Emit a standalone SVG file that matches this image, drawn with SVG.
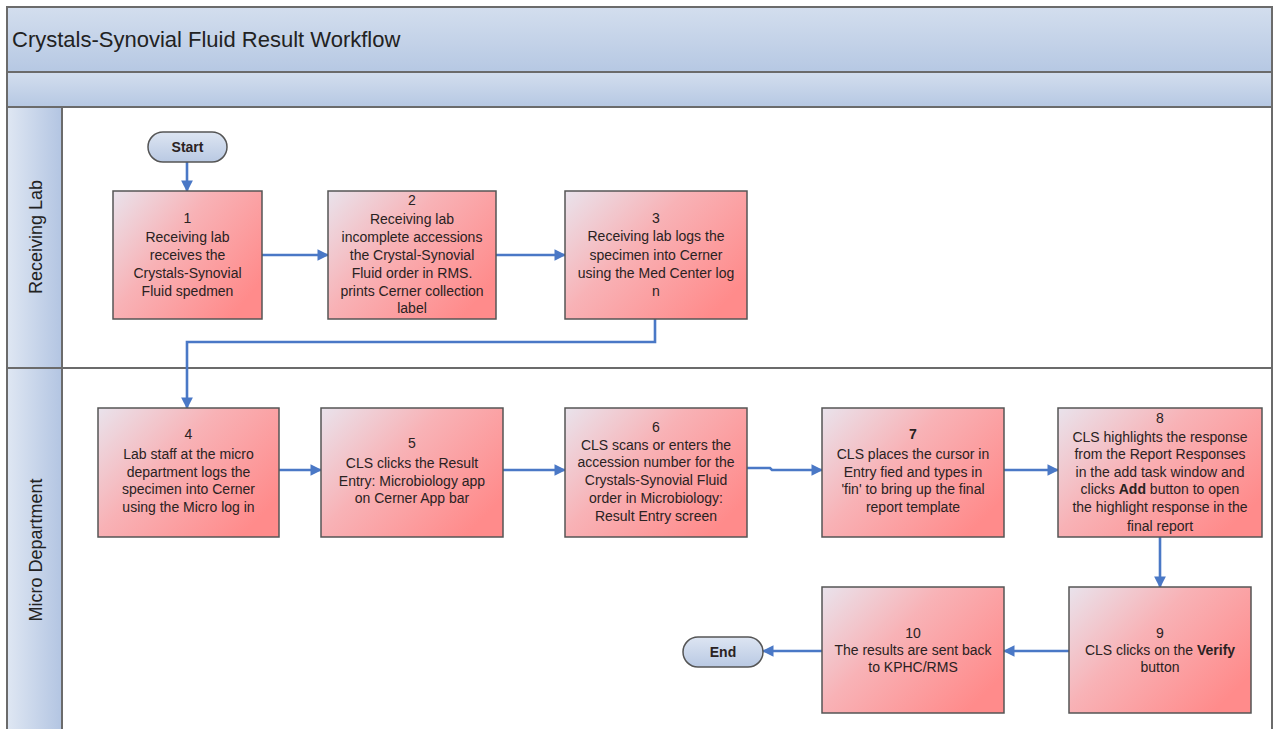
<svg xmlns="http://www.w3.org/2000/svg" width="1275" height="729" viewBox="0 0 1275 729">
<defs>
<linearGradient id="band" x1="0" y1="0" x2="0" y2="1"><stop offset="0" stop-color="#d3deee"/><stop offset="1" stop-color="#b6c8e3"/></linearGradient>
<linearGradient id="lane" x1="0" y1="0" x2="1" y2="0"><stop offset="0" stop-color="#dfe7f3"/><stop offset="1" stop-color="#b3c5e2"/></linearGradient>
<linearGradient id="box" x1="0" y1="0" x2="1" y2="0.7"><stop offset="0" stop-color="#e9e3ec"/><stop offset="0.45" stop-color="#f8b2b6"/><stop offset="1" stop-color="#ff8b8b"/></linearGradient>
<linearGradient id="term" x1="0" y1="0" x2="0" y2="1"><stop offset="0" stop-color="#dde5f2"/><stop offset="1" stop-color="#b9c9e3"/></linearGradient>
<marker id="ah" viewBox="0 0 10 10" refX="9" refY="5" markerWidth="4.5" markerHeight="4.5" orient="auto" markerUnits="strokeWidth"><path d="M0,0 L10,5 L0,10 z" fill="#4a78c6"/></marker>
</defs>
<style>
.frame{fill:none;stroke:#6b6b6b;stroke-width:2}
.bx{fill:url(#box);stroke:#555;stroke-width:1.5}
.tm{fill:url(#term);stroke:#555;stroke-width:1.5}
.t{font-family:"Liberation Sans",Arial,sans-serif;font-size:14px;fill:#2a2222;text-anchor:middle}
.b{font-weight:bold}
.cn{fill:none;stroke:#4a78c6;stroke-width:2.6;marker-end:url(#ah)}
.lbl{font-family:"Liberation Sans",Arial,sans-serif;font-size:18px;fill:#222;text-anchor:middle}
</style>
<rect x="0" y="0" width="1275" height="729" fill="#ffffff"/>
<g id="pool">
<rect x="7" y="7" width="1265" height="65" fill="url(#band)"/>
<rect x="7" y="72" width="1265" height="35" fill="url(#band)"/>
<rect x="7" y="107" width="55" height="622" fill="url(#lane)"/>
<line x1="7" y1="72" x2="1272" y2="72" class="frame"/>
<line x1="7" y1="107" x2="1272" y2="107" class="frame"/>
<line x1="7" y1="368" x2="1272" y2="368" class="frame"/>
<line x1="62" y1="107" x2="62" y2="729" class="frame"/>
<path d="M7,729 L7,7 L1272,7 L1272,729" class="frame"/>
<text x="12" y="47" font-family="Liberation Sans,Arial,sans-serif" font-size="22" fill="#222">Crystals-Synovial Fluid Result Workflow</text>
<text class="lbl" transform="translate(42,237) rotate(-90)">Receiving Lab</text>
<text class="lbl" transform="translate(42,550) rotate(-90)">Micro Department</text>
</g>
<g id="connectors">
<line x1="187" y1="162" x2="187" y2="191" class="cn"/>
<line x1="262" y1="255" x2="328" y2="255" class="cn"/>
<line x1="496" y1="255" x2="565" y2="255" class="cn"/>
<polyline points="655,319 655,342 187,342 187,408" class="cn"/>
<line x1="279" y1="470" x2="321" y2="470" class="cn"/>
<line x1="503" y1="470" x2="565" y2="470" class="cn"/>
<polyline points="747,468 770,468 772,470 822,470" class="cn"/>
<line x1="1004" y1="470" x2="1058" y2="470" class="cn"/>
<line x1="1160" y1="537" x2="1160" y2="587" class="cn"/>
<line x1="1069" y1="651" x2="1004" y2="651" class="cn"/>
<line x1="822" y1="651" x2="763" y2="651" class="cn"/>
</g>
<g id="start">
<rect x="148" y="132" width="79" height="30" rx="15" class="tm"/>
<text x="187.5" y="152" class="t b" font-size="13">Start</text>
</g>
<g id="step1">
<rect x="113" y="191" width="149" height="128" class="bx"/>
<text class="t"><tspan x="187.5" y="223">1</tspan><tspan x="187.5" y="242">Receiving lab</tspan><tspan x="187.5" y="260">receives the</tspan><tspan x="187.5" y="278">Crystals-Synovial</tspan><tspan x="187.5" y="296">Fluid spedmen</tspan></text>
</g>
<g id="step2">
<rect x="328" y="191" width="168" height="128" class="bx"/>
<text class="t"><tspan x="412" y="205">2</tspan><tspan x="412" y="224">Receiving lab</tspan><tspan x="412" y="242">incomplete accessions</tspan><tspan x="412" y="260">the Crystal-Synovial</tspan><tspan x="412" y="278">Fluid order in RMS.</tspan><tspan x="412" y="296">prints Cerner collection</tspan><tspan x="412" y="313">label</tspan></text>
</g>
<g id="step3">
<rect x="565" y="191" width="182" height="128" class="bx"/>
<text class="t"><tspan x="656" y="223">3</tspan><tspan x="656" y="241">Receiving lab logs the</tspan><tspan x="656" y="260">specimen into Cerner</tspan><tspan x="656" y="278">using the Med Center log</tspan><tspan x="656" y="296">n</tspan></text>
</g>
<g id="step4">
<rect x="98" y="408" width="181" height="129" class="bx"/>
<text class="t"><tspan x="188.5" y="439">4</tspan><tspan x="188.5" y="459">Lab staff at the micro</tspan><tspan x="188.5" y="477">department logs the</tspan><tspan x="188.5" y="494">specimen into Cerner</tspan><tspan x="188.5" y="512">using the Micro log in</tspan></text>
</g>
<g id="step5">
<rect x="321" y="408" width="182" height="129" class="bx"/>
<text class="t"><tspan x="412" y="448">5</tspan><tspan x="412" y="468">CLS clicks the Result</tspan><tspan x="412" y="486">Entry: Microbiology app</tspan><tspan x="412" y="503">on Cerner App bar</tspan></text>
</g>
<g id="step6">
<rect x="565" y="408" width="182" height="129" class="bx"/>
<text class="t"><tspan x="656" y="432">6</tspan><tspan x="656" y="450">CLS scans or enters the</tspan><tspan x="656" y="467">accession number for the</tspan><tspan x="656" y="485">Crystals-Synovial Fluid</tspan><tspan x="656" y="503">order in Microbiology:</tspan><tspan x="656" y="521">Result Entry screen</tspan></text>
</g>
<g id="step7">
<rect x="822" y="408" width="182" height="129" class="bx"/>
<text class="t"><tspan x="913" y="439" font-weight="bold">7</tspan><tspan x="913" y="459">CLS places the cursor in</tspan><tspan x="913" y="477">Entry fied and types in</tspan><tspan x="913" y="494">'fin' to bring up the final</tspan><tspan x="913" y="512">report template</tspan></text>
</g>
<g id="step8">
<rect x="1058" y="408" width="204" height="129" class="bx"/>
<text class="t"><tspan x="1160" y="423">8</tspan><tspan x="1160" y="442">CLS highlights the response</tspan><tspan x="1160" y="459">from the Report Responses</tspan><tspan x="1160" y="477">in the add task window and</tspan><tspan x="1160" y="494">clicks <tspan font-weight="bold">Add</tspan> button to open</tspan><tspan x="1160" y="512">the highlight response in the</tspan><tspan x="1160" y="531">final report</tspan></text>
</g>
<g id="step9">
<rect x="1069" y="587" width="182" height="126" class="bx"/>
<text class="t"><tspan x="1160" y="638">9</tspan><tspan x="1160" y="655">CLS clicks on the <tspan font-weight="bold">Verify</tspan></tspan><tspan x="1160" y="672">button</tspan></text>
</g>
<g id="step10">
<rect x="822" y="587" width="182" height="126" class="bx"/>
<text class="t"><tspan x="913" y="638">10</tspan><tspan x="913" y="655">The results are sent back</tspan><tspan x="913" y="672">to KPHC/RMS</tspan></text>
</g>
<g id="end">
<rect x="683" y="637" width="80" height="30" rx="15" class="tm"/>
<text x="723" y="657" class="t b" font-size="13">End</text>
</g>
</svg>
